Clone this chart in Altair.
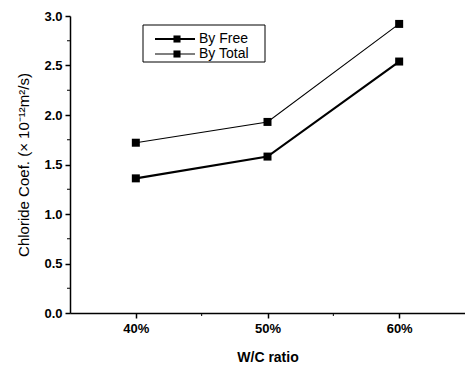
import altair as alt
import pandas as pd

wc = [40, 50, 60]
by_free = [1.36, 1.58, 2.54]
by_total = [1.72, 1.93, 2.92]
series_names = ["By Free", "By Total"]
minor_y_ticks = [0.25, 0.75, 1.25, 1.75, 2.25, 2.75]
minor_x_ticks = [45, 55]

df = pd.DataFrame({
    "wc": wc * 2,
    "coef": by_free + by_total,
    "series": [series_names[0]] * 3 + [series_names[1]] * 3,
})

W, H = 395, 297
FONT = "Liberation Sans"
xscale = alt.Scale(domain=[35, 65], nice=False)
yscale = alt.Scale(domain=[0, 3], nice=False)

x = alt.X("wc:Q", scale=xscale,
          axis=alt.Axis(values=[40, 50, 60], labelExpr="datum.value + '%'",
                        title="W/C ratio", grid=False, tickSize=5,
                        labelFontWeight="bold", titleFontWeight="bold",
                        labelFontSize=13, titleFontSize=14, labelPadding=4,
                        titlePadding=15, domainColor="black", tickColor="black",
                        labelColor="black", titleColor="black", tickWidth=1.5,
                        domainWidth=1.5, labelFont=FONT, titleFont=FONT))
y = alt.Y("coef:Q", scale=yscale,
          axis=alt.Axis(values=[0, 0.5, 1, 1.5, 2, 2.5, 3], format=".1f",
                        title="Chloride Coef. (× 10⁻¹²m²/s)", grid=False,
                        tickSize=5, labelFontWeight="bold", titleFontWeight="normal",
                        labelFontSize=13, titleFontSize=15, labelPadding=3,
                        titlePadding=12, domainColor="black", tickColor="black",
                        labelColor="black", titleColor="black", tickWidth=1.5,
                        domainWidth=1.5, labelFont=FONT, titleFont=FONT))

sw = alt.StrokeWidth("series:N", scale=alt.Scale(domain=series_names, range=[2.2, 1.1]), legend=None)

lines = alt.Chart(df).mark_line(color="black").encode(x=x, y=y, strokeWidth=sw, detail="series:N")
points = alt.Chart(df).mark_point(shape="square", filled=True, size=64, color="black", opacity=1).encode(
    x=x, y=y)

my = alt.Chart(pd.DataFrame({"coef": minor_y_ticks})).mark_rule(color="black", strokeWidth=1).encode(
    y=y, x=alt.value(-3), x2=alt.value(0))
mx = alt.Chart(pd.DataFrame({"wc": minor_x_ticks})).mark_rule(color="black", strokeWidth=1).encode(
    x=x, y=alt.value(H), y2=alt.value(H + 3))

# legend
leg_df = pd.DataFrame({"series": series_names})
box = alt.Chart(pd.DataFrame({"a": [0]})).mark_rect(fill="white", stroke="black", strokeWidth=1).encode(
    x=alt.value(73), x2=alt.value(195), y=alt.value(9), y2=alt.value(46))
legend_layers = [box]
for i, name in enumerate(series_names):
    yy = 23 + 15 * i
    base = alt.Chart(leg_df).transform_filter(alt.datum.series == name)
    legend_layers.append(base.mark_rule(color="black", strokeWidth=[2.2, 1.1][i]).encode(
        x=alt.value(85), x2=alt.value(125), y=alt.value(yy)))
    legend_layers.append(base.mark_point(shape="square", filled=True, size=50, color="black", opacity=1).encode(
        x=alt.value(107), y=alt.value(yy)))
    legend_layers.append(base.mark_text(align="left", baseline="middle", font=FONT, fontSize=14, color="black").encode(
        x=alt.value(129), y=alt.value(yy), text="series:N"))

chart = alt.layer(lines, points, my, mx, *legend_layers).properties(
    width=W, height=H, autosize=alt.AutoSizeParams(type="none"),
    padding={"left": 70, "top": 16, "right": 0, "bottom": 54},
    background="white"
).configure_view(stroke=None)

chart.save("out.html", embed_options={"renderer": "svg", "actions": False})
